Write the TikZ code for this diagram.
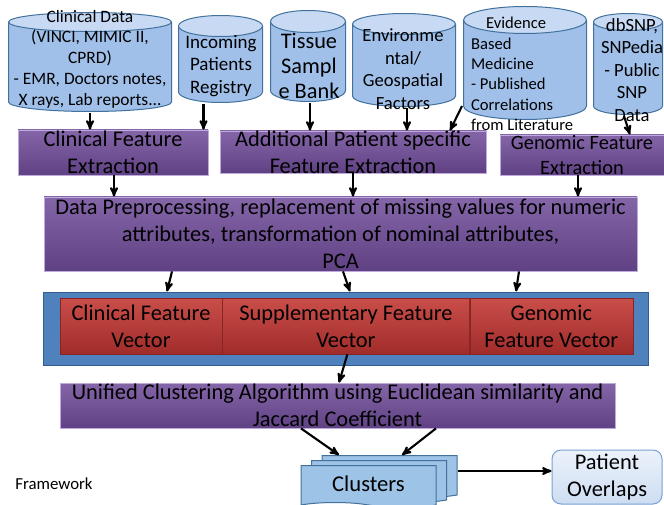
\documentclass[tikz,border=0pt]{standalone}
\usepackage{fontspec}
\setmainfont{Carlito}
\usetikzlibrary{arrows,shapes,shadows,positioning,calc}
\definecolor{cylbody}{RGB}{160,192,234}
\definecolor{cyltop}{RGB}{200,218,243}
\definecolor{cylline}{RGB}{65,113,156}
\definecolor{purtop}{RGB}{132,102,168}
\definecolor{purbot}{RGB}{96,66,132}
\definecolor{purline}{RGB}{190,170,220}
\definecolor{redtop}{RGB}{202,78,74}
\definecolor{redbot}{RGB}{160,44,42}
\definecolor{vecframe}{RGB}{79,129,189}
\definecolor{vecline}{RGB}{52,92,142}
\definecolor{clufill}{RGB}{157,195,230}
\definecolor{potop}{RGB}{236,242,250}
\definecolor{pobot}{RGB}{205,221,242}
\definecolor{poline}{RGB}{120,160,210}

\tikzset{
  db/.style={rectangle, inner sep=0pt, path picture={
    \draw[-, line width=1pt, draw=cylline, fill=cylbody]
      let \p1=(path picture bounding box.south west), \p2=(path picture bounding box.north east) in
      (\x1+0.5pt,\y2-#1) -- (\x1+0.5pt,\y1+#1)
      arc[start angle=180, end angle=360, x radius={(\x2-\x1)/2-0.5pt}, y radius=#1-0.5pt]
      -- (\x2-0.5pt,\y2-#1);
    \draw[-, line width=1pt, draw=cylline, fill=cyltop]
      let \p1=(path picture bounding box.south west), \p2=(path picture bounding box.north east) in
      ({(\x1+\x2)/2},\y2-#1) ellipse[x radius={(\x2-\x1)/2-0.5pt}, y radius=#1-0.5pt];
  }},
  dbtext/.style={align=center, inner sep=0pt},
  feat/.style={rectangle, draw=purline, line width=0.8pt, top color=purtop, bottom color=purbot,
    align=center, inner xsep=2pt, inner ysep=-4pt, font=\fontsize{22.4}{27}\selectfont},
  vec/.style={rectangle, top color=redtop, bottom color=redbot, draw=redbot!85!black, line width=0.4pt,
    align=center, inner sep=0pt, minimum height=56pt, font=\fontsize{22.4}{27}\selectfont}
}

\begin{document}
\begin{tikzpicture}[x=1pt,y=-1pt,->,>=stealth',line width=2.1pt]
\useasboundingbox (0,0) rectangle (664,505);

\node[db=10pt, minimum width=164pt, minimum height=100pt] (cd) at (90,62) {};
\node[db=11pt, minimum width=85pt, minimum height=88pt] (ipr) at (220.5,59) {};
\node[db=11.5pt, minimum width=76pt, minimum height=92pt] (tsb) at (308,56) {};
\node[db=11pt, minimum width=104pt, minimum height=94pt] (egf) at (404,60) {};
\node[db=14pt, minimum width=124pt, minimum height=114pt] (ebm) at (525,63) {};
\node[db=9pt, minimum width=70pt, minimum height=102pt] (dbs) at (628,64) {};

\node[dbtext, font=\fontsize{17.4}{20.7}\selectfont] (cd-t) at (90,59) {Clinical Data\\(VINCI, MIMIC II,\\CPRD)\\- EMR, Doctors notes,\\X rays, Lab reports...};
\node[dbtext, font=\fontsize{19}{22.5}\selectfont] (ipr-t) at (221,66) {Incoming\\Patients\\Registry};
\node[dbtext, font=\fontsize{22.3}{25}\selectfont] (tsb-t) at (309,66) {Tissue\\Sampl\\e Bank};
\node[dbtext, font=\fontsize{18.6}{22.5}\selectfont] (egf-t) at (403,69) {Environme\\ntal/\\Geospatial\\Factors};
\node[dbtext, align=left, anchor=west, font=\fontsize{16.6}{20.4}\selectfont] (ebm-t) at (470,74) {\hspace*{15pt}Evidence\\Based\\Medicine\\- Published\\Correlations\\from Literature};
\node[dbtext, font=\fontsize{18.6}{22.5}\selectfont] (dbs-t) at (632,70) {dbSNP,\\SNPedia\\- Public\\SNP\\Data};

\node[feat, minimum width=190pt, minimum height=45pt] (cfe) at (113,152.5) {Clinical Feature\\Extraction};
\node[feat, minimum width=266pt, minimum height=42pt] (apsfe) at (353,152) {Additional Patient specific\\Feature Extraction};
\node[feat, minimum width=164pt, minimum height=40pt, font=\fontsize{20.4}{25}\selectfont] (gfe) at (582,155) {Genomic Feature\\Extraction};
\node[feat, minimum width=593pt, minimum height=74pt] (dpp) at (340.5,234) {Data Preprocessing, replacement of missing values for numeric\\attributes, transformation of nominal attributes,\\PCA};

\node[rectangle, draw=vecline, fill=vecframe, line width=1pt, minimum width=605pt, minimum height=73pt] (bfv) at (345.5,328.5) {};
\node[vec, minimum width=162pt] (cfv) at (141,326) {Clinical Feature\\Vector};
\node[vec, minimum width=247pt, right=0pt of cfv] (sfv) {Supplementary Feature\\Vector};
\node[vec, minimum width=163pt, right=0pt of sfv] (gfv) {Genomic\\Feature Vector};

\node[feat, minimum width=555pt, minimum height=45pt] (ucl) at (337.5,405.5) {Unified Clustering Algorithm using Euclidean similarity and\\Jaccard Coefficient};

\node[tape, tape bend top=none, tape bend bottom=out and in, draw=cylline, fill=clufill, line width=1pt,
  double copy shadow={shadow xshift=10.5pt, shadow yshift=5pt},
  minimum width=135pt, minimum height=42pt, font=\fontsize{22.6}{27}\selectfont] (clu) at (368.5,484) {Clusters};
\node[rectangle, rounded corners=9pt, draw=poline, top color=potop, bottom color=pobot, line width=1pt,
  minimum width=110pt, minimum height=54pt, align=center, inner sep=0pt,
  font=\fontsize{22.4}{27}\selectfont] (po) at (607,477) {Patient\\Overlaps};

\node[font=\fontsize{16.8}{20}\selectfont] (fw) at (54,484) {Framework};

\draw (cd.south) -- (cd.south |- cfe.north);
\draw ([xshift=-17pt]ipr.south) -- ([xshift=-17pt]ipr.south |- cfe.north);
\draw ([xshift=2pt]tsb.south) -- ([xshift=2pt]tsb.south |- apsfe.north);
\draw ([xshift=3pt]egf.south) -- ([xshift=3pt]egf.south |- apsfe.north);
\draw ([xshift=-63pt,yshift=15pt]ebm.south) -- ([xshift=97pt]apsfe.north);
\draw ([xshift=-4pt]dbs.south) -- ([xshift=48pt]gfe.north);
\draw ([xshift=1pt]cfe.south) -- ([xshift=1pt]cfe.south |- dpp.north);
\draw (apsfe.south) -- (apsfe.south |- dpp.north);
\draw ([xshift=-4pt]gfe.south) -- ([xshift=-4pt]gfe.south |- dpp.north);
\draw ([xshift=-168.5pt]dpp.south) -- ([xshift=-178.5pt]bfv.north);
\draw ([xshift=2.5pt]dpp.south) -- ([xshift=4.5pt]bfv.north);
\draw ([xshift=178.5pt]dpp.south) -- ([xshift=170.5pt]bfv.north);
\draw ([xshift=1.5pt]sfv.south) -- ([xshift=1.5pt]ucl.north);
\draw ([xshift=-36.5pt]ucl.south) -- ([xshift=-29.5pt,yshift=10pt]clu.north);
\draw ([xshift=98.5pt]ucl.south) -- ([xshift=33.5pt,yshift=10pt]clu.north);
\draw ([xshift=21pt,yshift=13pt]clu.east) -- ([yshift=6pt]po.west);
\end{tikzpicture}
\end{document}
